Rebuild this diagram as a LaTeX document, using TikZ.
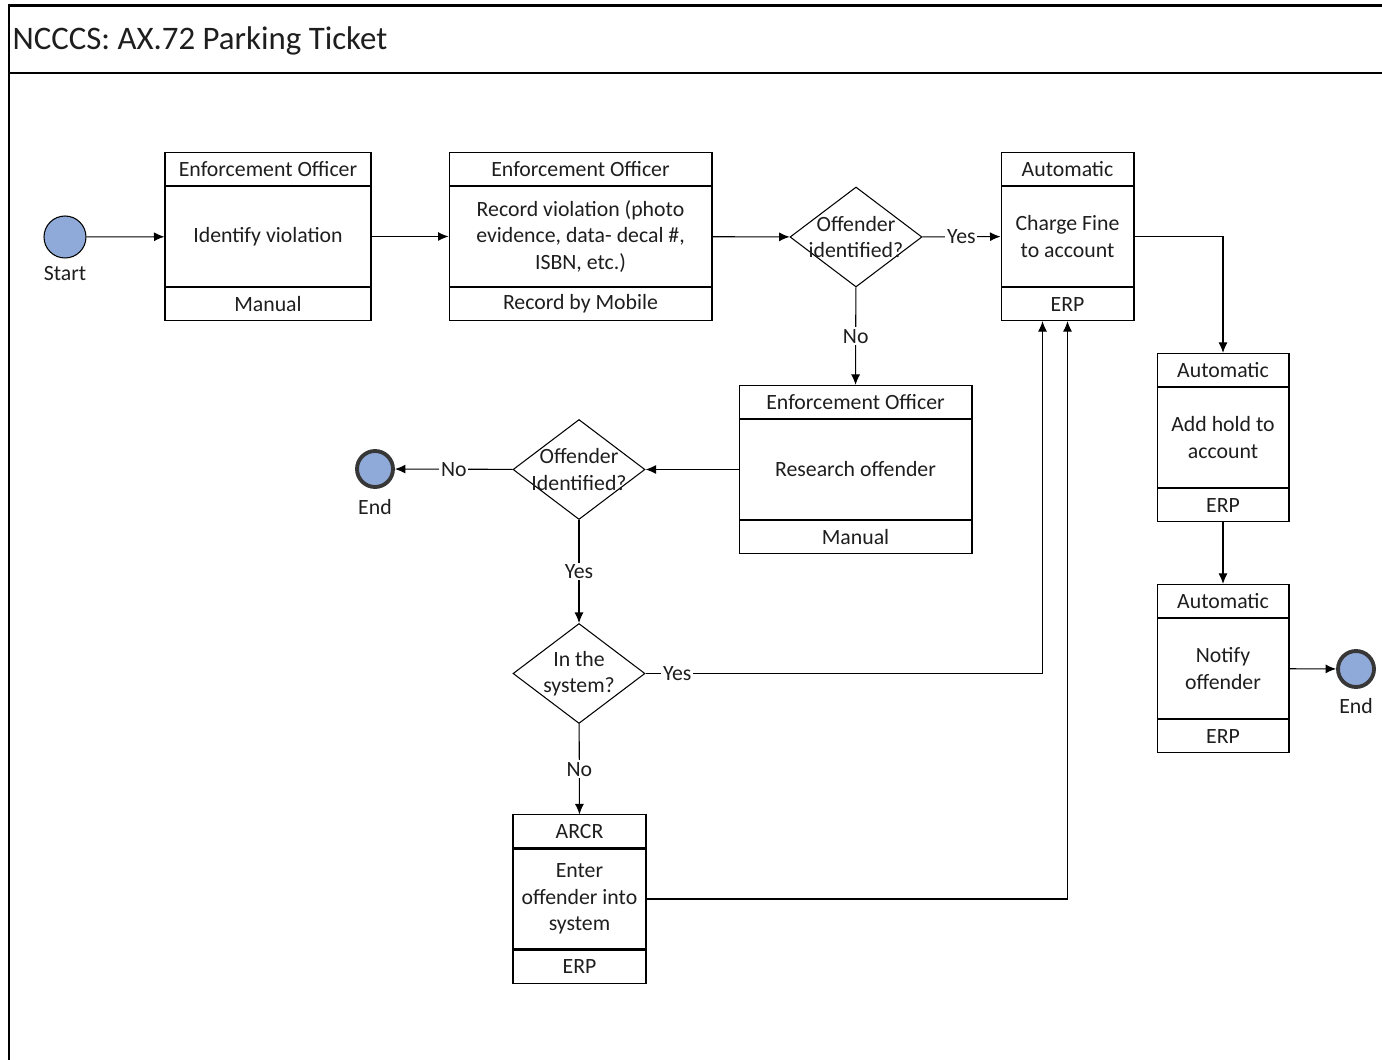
\documentclass[tikz,border=0pt]{standalone}
\usepackage{fontspec}
\setmainfont{Carlito}
\usetikzlibrary{positioning, shapes.geometric, arrows.meta}
\definecolor{eventblue}{RGB}{143,170,216}
\definecolor{ringgrey}{RGB}{55,55,55}
\definecolor{inkgrey}{RGB}{30,30,30}

\tikzset{
  head/.style={draw, minimum height=0.66cm, inner sep=0pt},
  work/.style={draw, minimum height=2cm, align=center, inner sep=2pt},
  choice/.style={draw, diamond, minimum width=2.64cm, minimum height=2cm, inner sep=0pt},
  startev/.style={draw, circle, fill=eventblue, minimum size=0.84cm, inner sep=0pt},
  endev/.style={draw=ringgrey, line width=2.2pt, circle, fill=eventblue, minimum size=0.72cm, inner sep=0pt},
  flow/.style={->, >={Latex[length=2.1mm, width=1.8mm]}},
  tag/.style={fill=white, inner sep=1pt},
}

\begin{document}
\begin{tikzpicture}[x=0.02cm, y=-0.02cm, line width=0.6pt, text=inkgrey,
    font=\fontsize{12.4}{15}\selectfont]
  \useasboundingbox (0,0) rectangle (1382,1060);

  % frame and title bar
  \draw[line width=1.7pt] (1382,6) -- (9,6) -- (9,1060);
  \draw[line width=1.1pt] (9,73) -- (1382,73);
  \node[anchor=west, inner sep=0pt, font=\fontsize{18.7}{22}\selectfont]
    (title) at (12,41) {NCCCS: AX.72 Parking Ticket};

  % start event
  \node[startev] (start) at (65,237) {};
  \node (start-t) at (65,274) {Start};

  % tasks: header, body, footer
  \node[work, minimum width=4.12cm] (ident) at (268,236.5) {Identify violation};
  \node[head, minimum width=4.12cm, above=0pt of ident] (ident-h) {Enforcement Officer};
  \node[head, minimum width=4.12cm, below=0pt of ident] (ident-f) {Manual};

  \node[work, minimum width=5.26cm] (record) at (580.5,236.5)
    {Record violation (photo\\evidence, data- decal \#,\\ISBN, etc.)};
  \node[head, minimum width=5.26cm, above=0pt of record] (record-h) {Enforcement Officer};
  \node[head, minimum width=5.26cm, below=0pt of record] (record-f) {Record by Mobile};

  \node[choice, label={[align=center]center:Offender\\identified?}]
    (known) at (856,237) {};

  \node[work, minimum width=2.66cm] (charge) at (1067.5,236.5) {Charge Fine\\to account};
  \node[head, minimum width=2.66cm, above=0pt of charge] (charge-h) {Automatic};
  \node[head, minimum width=2.66cm, below=0pt of charge] (charge-f) {ERP};

  \node[work, minimum width=4.66cm] (research) at (855.5,469.5) {Research offender};
  \node[head, minimum width=4.66cm, above=0pt of research] (research-h) {Enforcement Officer};
  \node[head, minimum width=4.66cm, below=0pt of research] (research-f) {Manual};

  \node[choice, label={[align=center]center:Offender\\Identified?}]
    (found) at (579,469.5) {};

  \node[endev] (stop) at (375,469) {};
  \node (stop-t) at (375,507) {End};

  \node[choice, label={[align=center]center:In the\\system?}]
    (insys) at (579,673.5) {};

  \node[work, minimum width=2.66cm] (enter) at (579.5,899) {Enter\\offender into\\system};
  \node[head, minimum width=2.66cm, above=0pt of enter] (enter-h) {ARCR};
  \node[head, minimum width=2.66cm, below=0pt of enter] (enter-f) {ERP};

  \node[work, minimum width=2.64cm] (hold) at (1223,437.5) {Add hold to\\account};
  \node[head, minimum width=2.64cm, above=0pt of hold] (hold-h) {Automatic};
  \node[head, minimum width=2.64cm, below=0pt of hold] (hold-f) {ERP};

  \node[work, minimum width=2.64cm] (notify) at (1223,668.5) {Notify\\offender};
  \node[head, minimum width=2.64cm, above=0pt of notify] (notify-h) {Automatic};
  \node[head, minimum width=2.64cm, below=0pt of notify] (notify-f) {ERP};

  \node[endev] (finish) at (1356,669) {};
  \node (finish-t) at (1356,706) {End};

  % main line
  \draw[flow] (start) -- (ident);
  \draw[flow] (ident) -- (record);
  \draw[flow] (record) -- (known);
  \draw[flow] (known) -- node[tag] {Yes} (charge);
  \draw[flow] (known) -- node[tag] {No} (research-h);

  % offender search
  \draw[flow] (research) -- (found);
  \draw[flow] (found) -- node[tag] {No} (stop);
  \draw[flow] (found) -- node[tag] {Yes} (insys);
  \draw[flow] (insys) -| node[tag, pos=0.04] {Yes} ([xshift=-0.5cm]charge-f.south);
  \draw[flow] (insys) -- node[tag] {No} (enter-h);
  \draw[flow] (enter) -| (charge-f);

  % after the fine
  \draw[flow] (charge) -| (hold-h);
  \draw[flow] (hold-f) -- (notify-h);
  \draw[flow] (notify) -- (finish);
\end{tikzpicture}
\end{document}
